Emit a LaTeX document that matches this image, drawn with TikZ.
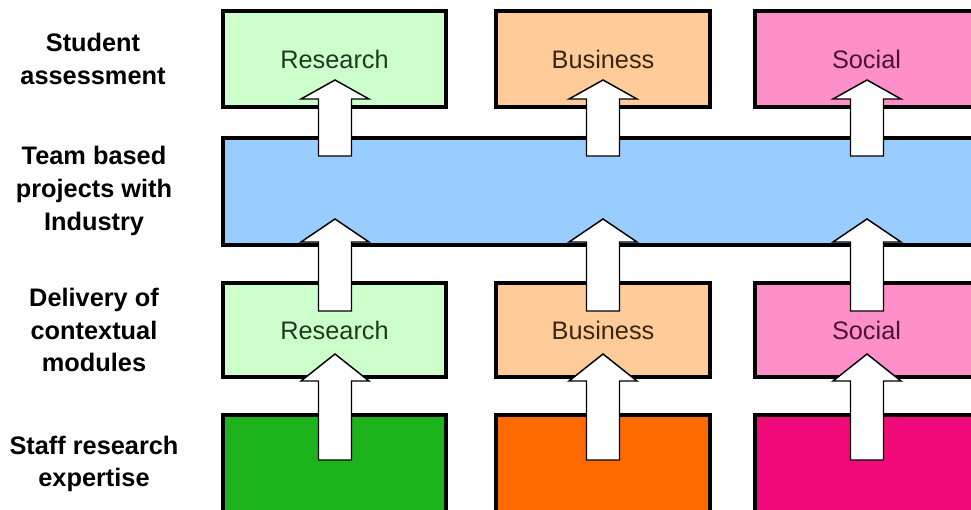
\documentclass[tikz,border=0pt]{standalone}
\usepackage{fontspec}
\setmainfont{Liberation Sans}
\definecolor{lgreen}{HTML}{CCFFCC}
\definecolor{lorange}{HTML}{FFCC99}
\definecolor{lpink}{HTML}{FF8FC8}
\definecolor{lblue}{HTML}{99CCFF}
\definecolor{dgreen}{HTML}{1DB31D}
\definecolor{dorange}{HTML}{FF6A00}
\definecolor{dpink}{HTML}{F00A7A}
\definecolor{tgreen}{HTML}{1E3A1E}
\definecolor{torange}{HTML}{3A2612}
\definecolor{tpink}{HTML}{4A1436}
\tikzset{
  box/.style={draw=black, line width=2.6pt, inner sep=0pt, font=\fontsize{19}{23}\selectfont},
  rowlabel/.style={align=center, font=\fontsize{19}{24.5}\selectfont\bfseries},
  blockarrow/.style={draw=black, fill=white, line width=1.1pt, line join=miter}
}
\newcommand{\blkarrow}[4]{% x, bottom, head base, tip
  \draw[blockarrow] (#1-16.5,#2) -- (#1-16.5,#3) -- (#1-34,#3) -- (#1,#4) -- (#1+34,#3) -- (#1+16.5,#3) -- (#1+16.5,#2) -- cycle;}
\begin{document}
\begin{tikzpicture}[x=0.75pt, y=-0.75pt]
\useasboundingbox (0,0) rectangle (971,510);
\clip (0,0) rectangle (971,510);
\fill[white] (0,0) rectangle (971,510);
% row labels
\node[rowlabel] (l1) at (93,59) {Student\\assessment};
\node[rowlabel] (l2) at (94,191) {Team based\\projects with\\Industry};
\node[rowlabel] (l3) at (94,330) {Delivery of\\contextual\\modules};
\node[rowlabel] (l4) at (94,464) {Staff research\\expertise};
% top row
\node[box, fill=lgreen, text=tgreen, minimum width=167.25pt, minimum height=72pt] (a1) at (334.5,59) {Research};
\node[box, fill=lorange, text=torange, minimum width=160.5pt, minimum height=72pt] (a2) at (603,59) {Business};
\node[box, fill=lpink, text=tpink, minimum width=167.25pt, minimum height=72pt] (a3) at (866.5,59) {Social};
% team projects
\node[box, fill=lblue, minimum width=571.5pt, minimum height=80.25pt] (tp) at (604,191.5) {};
% modules
\node[box, fill=lgreen, text=tgreen, minimum width=167.25pt, minimum height=70.5pt] (m1) at (334.5,330) {Research};
\node[box, fill=lorange, text=torange, minimum width=160.5pt, minimum height=70.5pt] (m2) at (603,330) {Business};
\node[box, fill=lpink, text=tpink, minimum width=167.25pt, minimum height=70.5pt] (m3) at (866.5,330) {Social};
% expertise
\node[box, fill=dgreen, minimum width=167.25pt, minimum height=75pt] (e1) at (334.5,465) {};
\node[box, fill=dorange, minimum width=160.5pt, minimum height=75pt] (e2) at (603,465) {};
\node[box, fill=dpink, minimum width=167.25pt, minimum height=75pt] (e3) at (866.5,465) {};
% arrows
\foreach \cx in {335,603,867}{
  \blkarrow{\cx}{156}{99}{80}
  \blkarrow{\cx}{311}{242}{219}
  \blkarrow{\cx}{460}{381}{354}
}
\end{tikzpicture}
\end{document}
